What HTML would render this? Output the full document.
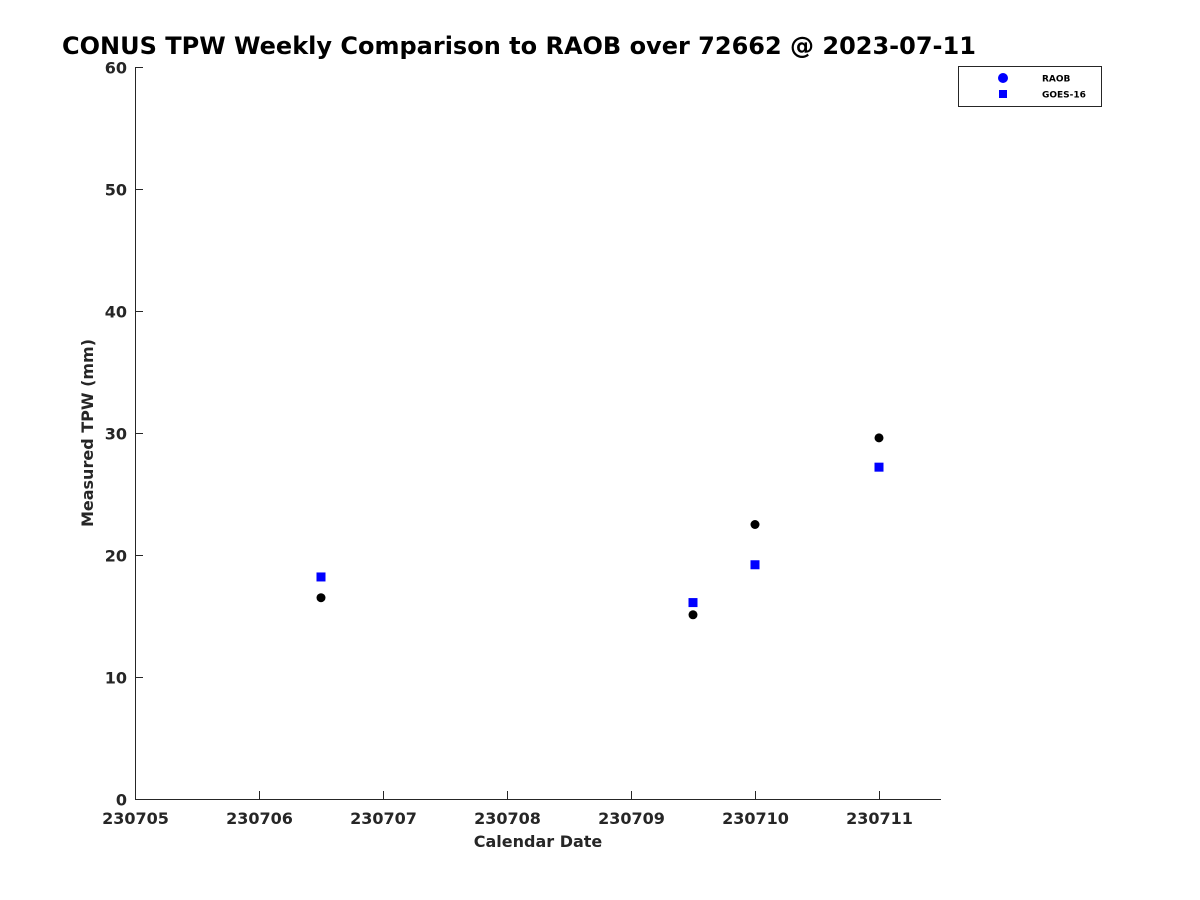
<!DOCTYPE html>
<html><head><meta charset="utf-8"><style>
body{margin:0;background:#fff}
svg{display:block;font-family:"DejaVu Sans","Liberation Sans",sans-serif;font-weight:bold}
</style></head><body>
<svg id="chart" width="1200" height="900" xmlns="http://www.w3.org/2000/svg">
<text x="62" y="54" font-size="24" fill="#000">CONUS TPW Weekly Comparison to RAOB over 72662 @ 2023-07-11</text>
<g id="axes"></g>
<g id="marks"></g>
<text x="538" y="847" font-size="16" fill="#262626" text-anchor="middle">Calendar Date</text>
<text transform="translate(93,433) rotate(-90)" font-size="16" fill="#262626" text-anchor="middle">Measured TPW (mm)</text>
<g>
<rect x="958.5" y="66.5" width="143" height="40" fill="#fff" stroke="#262626" stroke-width="1"/>
<circle cx="1003" cy="78" r="5" fill="#0000ff"/>
<text x="1042" y="81.5" font-size="9" fill="#000">RAOB</text>
<rect x="999" y="90" width="8" height="8" fill="#0000ff"/>
<text x="1042" y="97.5" font-size="9" fill="#000">GOES-16</text>
</g>
</svg>
<script>
const xTicks=[230705,230706,230707,230708,230709,230710,230711];
const yTicks=[0,10,20,30,40,50,60];
const raobX=[230706.5,230709.5,230710,230711];
const raobY=[16.5,15.1,22.5,29.6];
const goesX=[230706.5,230709.5,230710,230711];
const goesY=[18.2,16.1,19.2,27.2];
const NS="http://www.w3.org/2000/svg";
const X0=135,X1=941,Y0=799,Y1=67,xmin=230705,xmax=230711.5,ymin=0,ymax=60;
const sx=v=>X0+(v-xmin)/(xmax-xmin)*(X1-X0);
const sy=v=>Y0-(v-ymin)/(ymax-ymin)*(Y0-Y1);
function mk(tag,attrs,parent){const e=document.createElementNS(NS,tag);for(const k in attrs)e.setAttribute(k,attrs[k]);parent.appendChild(e);return e;}
const ax=document.getElementById('axes'),mg=document.getElementById('marks');
let l=mk('line',{x1:X0+.5,y1:Y1,x2:X0+.5,y2:Y0+.5,stroke:'#262626'},ax);


l=mk('line',{x1:X0,y1:Y0+.5,x2:X1,y2:Y0+.5,stroke:'#262626'},ax);


xTicks.forEach(t=>{const x=Math.round(sx(t))+.5;
 const tk=mk('line',{x1:x,y1:Y0,x2:x,y2:Y0-8,stroke:'#262626'},ax);
 
 
 const tx=mk('text',{x:x,y:Y0+25,'font-size':16,fill:'#262626','text-anchor':'middle'},ax);tx.textContent=t;
 
 });
yTicks.forEach(t=>{const y=Math.round(sy(t))+.5;
 const tk=mk('line',{x1:X0,y1:y,x2:X0+8,y2:y,stroke:'#262626'},ax);
 
 
 const tx=mk('text',{x:X0-8,y:y+6,'font-size':16,fill:'#262626','text-anchor':'end'},ax);tx.textContent=t;
 
 });
raobX.forEach((v,i)=>{const c=mk('circle',{cx:sx(v),cy:sy(raobY[i]),r:4.5,fill:'#000'},mg);
 
 });
goesX.forEach((v,i)=>{const r=mk('rect',{x:sx(v)-4.5,y:sy(goesY[i])-4.5,width:9,height:9,fill:'#0000ff'},mg);
 
 });
</script>
</body></html>
